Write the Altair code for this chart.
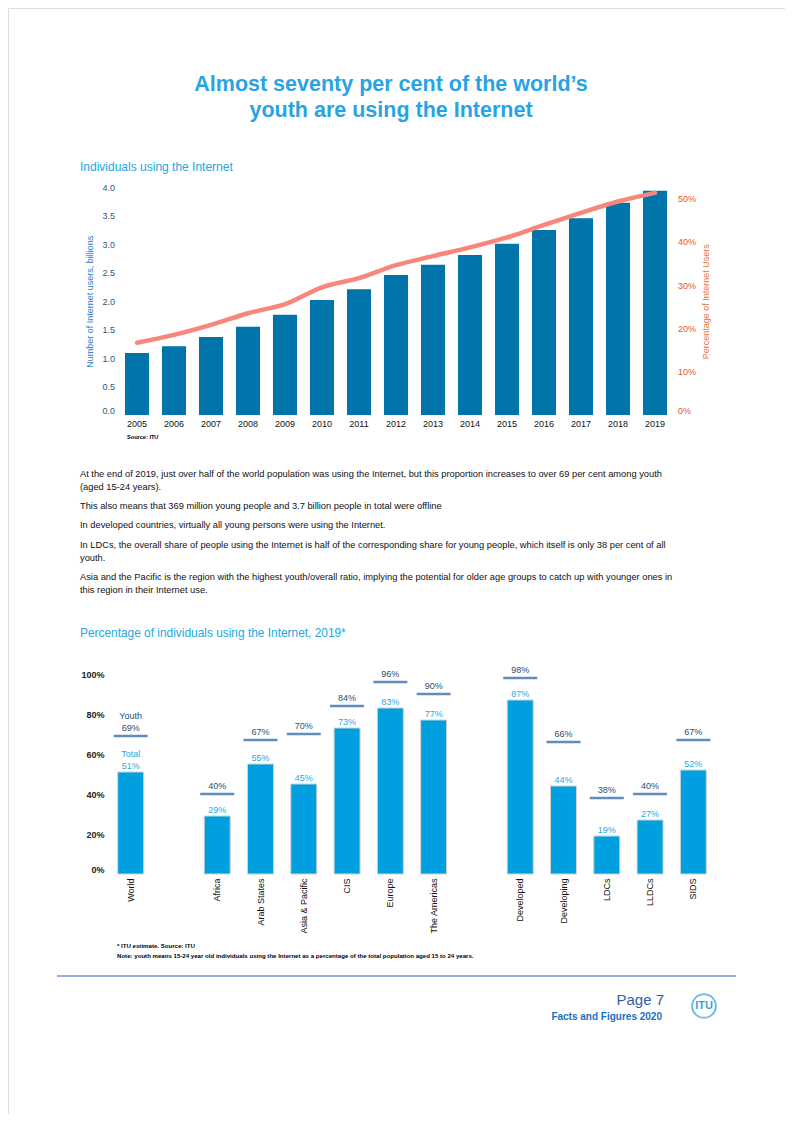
import altair as alt
import pandas as pd

# ---------------- data ----------------
years = [str(y) for y in range(2005, 2020)]
users_bn = [1.09, 1.21, 1.37, 1.55, 1.76, 2.02, 2.21, 2.46, 2.64, 2.81, 3.01, 3.25, 3.46, 3.73, 3.94]
users_pct = [16.7, 18.5, 20.8, 23.5, 25.6, 29.5, 31.6, 34.6, 36.7, 38.7, 41.0, 43.9, 46.7, 49.3, 51.3]

groups = ["World", "Africa", "Arab States", "Asia & Pacific", "CIS", "Europe", "The Americas",
          "Developed", "Developing", "LDCs", "LLDCs", "SIDS"]
youth = [69, 40, 67, 70, 84, 96, 90, 98, 66, 38, 40, 67]
total = [51, 29, 55, 45, 73, 83, 77, 87, 44, 19, 27, 52]
x2_domain = ["World", "gap1", "Africa", "Arab States", "Asia & Pacific", "CIS", "Europe",
             "The Americas", "gap2", "Developed", "Developing", "LDCs", "LLDCs", "SIDS"]

title_lines = ["Almost seventy per cent of the world\u2019s", "youth are using the Internet"]
paragraph_lines = [
    "At the end of 2019, just over half of the world population was using the Internet, but this proportion increases to over 69 per cent among youth",
    "(aged 15-24 years).",
    "This also means that 369 million young people and 3.7 billion people in total were offline",
    "In developed countries, virtually all young persons were using the Internet.",
    "In LDCs, the overall share of people using the Internet is half of the corresponding share for young people, which itself is only 38 per cent of all",
    "youth.",
    "Asia and the Pacific is the region with the highest youth/overall ratio, implying the potential for older age groups to catch up with younger ones in",
    "this region in their Internet use.",
]
footnotes = [
    "* ITU estimate. Source: ITU",
    "Note: youth means 15-24 year old individuals using the Internet as a percentage of the total population aged 15 to 24 years.",
]

# ---------------- layout ----------------
W, H = 777, 1106
FONT = "Liberation Sans"


def px(v):
    return v - 8


one = alt.Data(values=[{}])


def label(text, x, y, size=9, color="#000", weight="normal", align="left", baseline="middle"):
    return alt.Chart(one).mark_text(
        text=text, font=FONT, fontSize=size, color=color, fontWeight=weight,
        align=align, baseline=baseline,
    ).encode(x=alt.value(px(x)), y=alt.value(px(y)))


# ---------------- chart 1 ----------------
df1 = pd.DataFrame({"year": years, "bn": users_bn, "pct": users_pct})

x1 = alt.X("year:O", title=None,
           scale=alt.Scale(range=[px(118.5), px(673.5)], paddingInner=0.35, paddingOuter=0.175),
           axis=alt.Axis(orient="bottom", offset=px(415) - H, labelAngle=0, domain=False, ticks=False,
                         labelPadding=4, labelFont=FONT, labelFontSize=9, labelColor="#111", title=None))

bars1 = alt.Chart(df1).mark_bar(color="#0175aa").encode(
    x=x1,
    y=alt.Y("bn:Q",
            scale=alt.Scale(domain=[0, 4], range=[px(415), px(187.4)], nice=False),
            axis=alt.Axis(orient="left", offset=-px(118.5), values=[0, 0.5, 1, 1.5, 2, 2.5, 3, 3.5, 4],
                          format=".1f", domain=False, ticks=False, grid=False, labelPadding=4,
                          labelFont=FONT, labelFontSize=9, labelColor="#2d5489",
                          labelOffset={"condition": {"test": "datum.value === 0", "value": -5}, "value": 0},
                          title="Number of Internet users, billions", titleFont=FONT, titleFontSize=9,
                          titleFontWeight="normal", titleColor="#2f7bbd", titlePadding=7)),
)

line1 = alt.Chart(df1).mark_line(color="#f7877a", strokeWidth=4.5, interpolate="monotone",
                                 strokeCap="round").encode(
    x=x1,
    y=alt.Y("pct:Q",
            scale=alt.Scale(domain=[0, 52.56], range=[px(415), px(187.4)], nice=False),
            axis=alt.Axis(orient="right", offset=px(673.5) - W, values=[0, 10, 20, 30, 40, 50],
                          labelExpr="datum.value + '%'", domain=False, ticks=False, grid=False,
                          labelPadding=4, labelFont=FONT, labelFontSize=9, labelColor="#e8521f",
                          labelOffset={"condition": {"test": "datum.value === 0", "value": -5}, "value": 0},
                          title="Percentage of Internet Users", titleFont=FONT, titleFontSize=9,
                          titleFontWeight="normal", titleColor="#e8733a", titlePadding=6,
                          titleAngle=270, titleBaseline="top")),
)

chart1 = alt.layer(bars1, line1).resolve_scale(y="independent")

# ---------------- chart 2 ----------------
df2 = pd.DataFrame({
    "group": groups,
    "youth": youth,
    "total": total,
    "youth_lbl": [f"{v}%" for v in youth],
    "total_lbl": [f"{v}%" for v in total],
})

x2 = alt.X("group:N", title=None,
           scale=alt.Scale(domain=x2_domain, range=[px(109), px(715)], paddingInner=0.4, paddingOuter=0.2),
           axis=alt.Axis(orient="bottom", offset=px(874) - H, labelAngle=-90, domain=False, ticks=False,
                         labelPadding=4, labelFont=FONT, labelFontSize=9, labelColor="#111",
                         labelExpr="indexof(datum.value, 'gap') === 0 ? '' : datum.value", title=None))
y2scale = alt.Scale(domain=[0, 100], range=[px(874), px(674)], nice=False)
y2axis = alt.Axis(orient="left", offset=-px(109), values=[0, 20, 40, 60, 80, 100],
                  labelExpr="datum.value + '%'", domain=False, ticks=False, grid=False, labelPadding=5,
                  labelFont=FONT, labelFontSize=9, labelFontWeight="bold", labelColor="#222",
                  labelOffset={"condition": {"test": "datum.value === 0", "value": -5}, "value": 0},
                  title=None)

bars2 = alt.Chart(df2).mark_bar(color="#00a0e0", stroke="#d2d2d2", strokeWidth=1).encode(
    x=x2, y=alt.Y("total:Q", scale=y2scale, axis=y2axis, title=None))
ticks2 = alt.Chart(df2).mark_tick(color="#1c5d9c", size=34, thickness=2.5).encode(
    x=x2, y=alt.Y("youth:Q", scale=y2scale, axis=y2axis, title=None))
ylab2 = alt.Chart(df2).mark_text(font=FONT, fontSize=9, color="#2a4d78", dy=-5.5,
                                 baseline="alphabetic").encode(
    x=x2, y=alt.Y("youth:Q", scale=y2scale, axis=y2axis, title=None), text="youth_lbl:N")
tlab2 = alt.Chart(df2).mark_text(font=FONT, fontSize=9, color="#2aa9e3", dy=-3.5,
                                 baseline="alphabetic").encode(
    x=x2, y=alt.Y("total:Q", scale=y2scale, axis=y2axis, title=None), text="total_lbl:N")
youth_word = alt.Chart(df2).transform_filter("datum.group === 'World'").mark_text(
    text="Youth", font=FONT, fontSize=9, color="#2a4d78", dy=-16.7, baseline="alphabetic").encode(
    x=x2, y=alt.Y("youth:Q", scale=y2scale, axis=y2axis, title=None))
total_word = alt.Chart(df2).transform_filter("datum.group === 'World'").mark_text(
    text="Total", font=FONT, fontSize=9, color="#2aa9e3", dy=-14.7, baseline="alphabetic").encode(
    x=x2, y=alt.Y("total:Q", scale=y2scale, axis=y2axis, title=None))

chart2 = alt.layer(bars2, ticks2, ylab2, tlab2, youth_word, total_word)

# ---------------- text / decorations ----------------
texts = []
TITLE_C = "#2aa3e2"
texts.append(label(title_lines[0], 391, 90.5, size=21.5, color=TITLE_C, weight="bold", align="center",
                   baseline="alphabetic"))
texts.append(label(title_lines[1], 391, 116.5, size=21.5, color=TITLE_C, weight="bold", align="center",
                   baseline="alphabetic"))
texts.append(label("Individuals using the Internet", 80, 167, size=12, color="#22a7e0"))
texts.append(label("Source: ITU", 127, 437, size=5.6, weight="bold"))

para_y = [474, 486.5, 505.5, 525, 545, 557.5, 577, 589.5]
for t, yy in zip(paragraph_lines, para_y):
    texts.append(label(t, 80, yy, size=9.3, color="#111"))

texts.append(label("Percentage of individuals using the Internet, 2019*", 80, 633, size=11.9, color="#22a7e0"))
texts.append(label(footnotes[0], 117, 946, size=6.1, weight="bold"))
texts.append(label(footnotes[1], 117, 956, size=6.1, weight="bold"))

rule = alt.Chart(one).mark_rule(color="#3565ad", strokeWidth=1.2).encode(
    x=alt.value(px(57)), x2=alt.value(px(736)), y=alt.value(px(976)))
texts.append(rule)
texts.append(label("Page 7", 664, 1000, size=15, color="#2d5fa6", align="right"))
texts.append(label("Facts and Figures 2020", 662, 1016.5, size=10, color="#1b6fc0", weight="bold", align="right"))

logo_ring = alt.Chart(one).mark_point(shape="circle", size=560, filled=False, color="#3aa0d8",
                                      strokeWidth=2).encode(x=alt.value(px(704)), y=alt.value(px(1006)))
texts.append(logo_ring)
texts.append(label("ITU", 704, 1006, size=11, color="#3aa0d8", weight="bold", align="center"))

chart = alt.layer(chart1, chart2, *texts).resolve_scale(
    x="independent", y="independent"
).properties(
    width=W, height=H, padding=0, autosize=alt.AutoSizeParams(type="none")
).configure_view(stroke=None).configure(font=FONT)

chart.save("out.html", embed_options={"renderer": "svg", "actions": False})
